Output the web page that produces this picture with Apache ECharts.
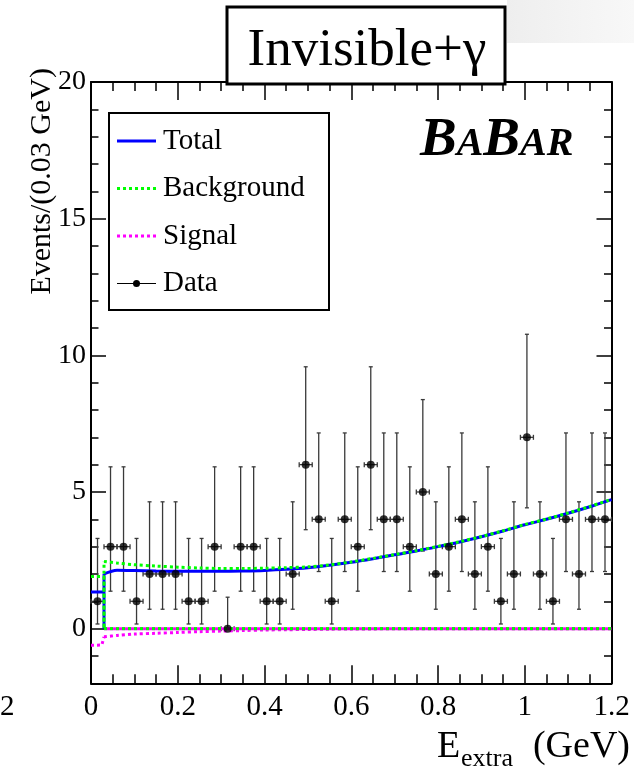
<!DOCTYPE html>
<html>
<head>
<meta charset="utf-8">
<script src="https://cdn.jsdelivr.net/npm/echarts@6/dist/echarts.min.js"></script>
<style>
  html, body { margin: 0; padding: 0; background: #fff; }
  #chart { width: 634px; height: 775px; }
</style>
</head>
<body>
<div id="chart"></div>
<script>
const FONT = "'Liberation Serif', serif";

// 0.03 GeV bins: centres and observed counts
const BIN_X = [0.015, 0.045, 0.075, 0.105, 0.135, 0.165, 0.195, 0.225, 0.255, 0.285,
               0.315, 0.345, 0.375, 0.405, 0.435, 0.465, 0.495, 0.525, 0.555, 0.585,
               0.615, 0.645, 0.675, 0.705, 0.735, 0.765, 0.795, 0.825, 0.855, 0.885,
               0.915, 0.945, 0.975, 1.005, 1.035, 1.065, 1.095, 1.125, 1.155, 1.185];
const COUNTS = [1, 3, 3, 1, 2, 2, 2, 1, 1, 3,
                0, 3, 3, 1, 1, 2, 6, 4, 1, 4,
                3, 6, 4, 4, 3, 5, 2, 3, 4, 2,
                3, 1, 2, 7, 2, 1, 4, 2, 4, 4];
const HALF_BIN = 0.015;

// poisson error bar ends, indexed by count
const ERR_LOW  = [0, 0.17, 0.71, 1.37, 2.09, 2.84, 3.62, 4.42];
const ERR_HIGH = [1.15, 3.30, 4.64, 5.92, 7.16, 8.38, 9.58, 10.77];

// fit curves above the first bin
const CURVE_X = [0.03, 0.06, 0.1, 0.15, 0.2, 0.25, 0.3, 0.35, 0.4, 0.45, 0.5, 0.55, 0.6,
                 0.65, 0.7, 0.75, 0.8, 0.85, 0.9, 0.95, 1.0, 1.05, 1.1, 1.15, 1.2];
const TOTAL_Y = [2.00, 2.14, 2.13, 2.11, 2.10, 2.10, 2.10, 2.11, 2.13, 2.17, 2.23, 2.32, 2.43,
                 2.56, 2.70, 2.84, 3.00, 3.17, 3.36, 3.57, 3.80, 4.00, 4.22, 4.46, 4.72];
const BKG_Y   = [2.46, 2.40, 2.34, 2.29, 2.25, 2.22, 2.20, 2.20, 2.21, 2.23, 2.26, 2.33, 2.44,
                 2.57, 2.71, 2.85, 3.01, 3.18, 3.37, 3.58, 3.81, 4.01, 4.23, 4.47, 4.73];
const SIG_Y   = [-0.30, -0.25, -0.20, -0.17, -0.14, -0.11, -0.09, -0.07, -0.05, -0.04, -0.03, -0.02, -0.01,
                 -0.01, 0, 0, 0, 0, 0, 0, 0, 0, 0, 0, 0];

// first bin (0 - 0.03) levels
const FIRST_EDGE = 0.03;
const TOTAL_BIN1 = 1.34;
const BKG_BIN1 = 1.91;
const SIG_BIN1 = -0.61;

const X_MIN = 0, X_MAX = 1.2, X_STEP = 0.2;
const Y_MIN = -2, Y_MAX = 20;
const Y_TICKS = [0, 5, 10, 15, 20];

const BLUE = '#0000ff', GREEN = '#00ff00', MAGENTA = '#ff00ff';

const zip = (xs, ys) => xs.map((x, i) => [x, ys[i]]);

const pts = BIN_X.map((x, i) => [x, COUNTS[i], ERR_LOW[COUNTS[i]], ERR_HIGH[COUNTS[i]]]);

function errBars(params, api) {
  const x = api.value(0), y = api.value(1);
  const lo = api.coord([x, api.value(2)]);
  const hi = api.coord([x, api.value(3)]);
  const l = api.coord([x - HALF_BIN, y]);
  const r = api.coord([x + HALF_BIN, y]);
  const st = { stroke: '#3a3a3a', lineWidth: 1.3 };
  const ln = (x1, y1, x2, y2) => ({ type: 'line', shape: { x1, y1, x2, y2 }, style: st });
  return {
    type: 'group',
    children: [
      ln(lo[0], lo[1], hi[0], hi[1]),
      ln(hi[0] - 2, hi[1], hi[0] + 2, hi[1]),
      ln(lo[0] - 2, lo[1], lo[0] + 2, lo[1]),
      ln(l[0], l[1], r[0], r[1]),
      ln(l[0], l[1] - 2.5, l[0], l[1] + 2.5),
      ln(r[0], r[1] - 2.5, r[0], r[1] + 2.5),
    ],
  };
}

const AX_LINE = { show: true, onZero: false, lineStyle: { color: '#000', width: 2 } };
const TICK_STYLE = { color: '#000', width: 1.5 };

function xAxis(pos, labels) {
  return {
    type: 'value', position: pos, min: X_MIN, max: X_MAX, interval: X_STEP,
    axisLine: AX_LINE,
    axisTick: { show: true, inside: true, length: 18, lineStyle: TICK_STYLE },
    minorTick: { show: true, splitNumber: 4, length: 9, lineStyle: TICK_STYLE },
    splitLine: { show: false },
    minorSplitLine: { show: false },
    axisLabel: {
      show: labels, color: '#000', fontFamily: FONT, fontSize: 29, margin: 10,
      showMinLabel: true, showMaxLabel: true,
      formatter: v => String(+v.toFixed(1)),
    },
  };
}

function yMajor(pos, labels) {
  return {
    type: 'value', position: pos, min: Y_MIN, max: Y_MAX,
    axisLine: AX_LINE,
    axisTick: { show: true, inside: true, length: 15, lineStyle: TICK_STYLE, customValues: Y_TICKS },
    splitLine: { show: false },
    axisLabel: {
      show: labels, customValues: Y_TICKS, color: '#000', fontFamily: FONT, fontSize: 28, margin: 5,
    },
  };
}

function yMinor(pos) {
  return {
    type: 'value', position: pos, min: Y_MIN, max: Y_MAX, interval: 1,
    axisLine: { show: false, onZero: false },
    axisTick: { show: true, inside: true, length: 7.5, lineStyle: TICK_STYLE },
    splitLine: { show: false },
    axisLabel: { show: false },
  };
}

const curve = (name, data, color, dashed, z, smooth) => ({
  name, type: 'line', data, smooth: smooth ? 0.3 : false, showSymbol: false, symbol: 'none',
  xAxisIndex: 0, yAxisIndex: 0, z, silent: true,
  lineStyle: { color, width: 3, type: dashed ? [3, 3] : 'solid' },
});

const textEl = (x, y, text, size, extra) => ({
  type: 'text', x, y, z: 100,
  style: Object.assign({ text, fill: '#000', fontFamily: FONT, fontSize: size, verticalAlign: 'middle' }, extra || {}),
});

const legendRows = [
  { label: 'Total', color: BLUE, dash: null },
  { label: 'Background', color: GREEN, dash: [3, 3] },
  { label: 'Signal', color: MAGENTA, dash: [3, 3] },
  { label: 'Data', color: '#000', dash: null },
];
const LEG = { x: 109, y: 113, w: 220, h: 197 };
const legendEls = [{
  type: 'rect', z: 90, shape: { x: LEG.x, y: LEG.y, width: LEG.w, height: LEG.h },
  style: { fill: '#fff', stroke: '#000', lineWidth: 2 },
}];
legendRows.forEach((r, i) => {
  const cy = 141 + i * 47.5;
  const isData = r.label === 'Data';
  legendEls.push({
    type: 'line', z: 95, shape: { x1: 117, y1: cy, x2: 156, y2: cy },
    style: { stroke: r.color, lineWidth: isData ? 1.2 : 3, lineDash: r.dash },
  });
  if (isData) {
    legendEls.push({ type: 'circle', z: 96, shape: { cx: 136.5, cy, r: 3.5 }, style: { fill: '#000' } });
  }
  legendEls.push(textEl(163, cy, r.label, 29));
});

const chart = echarts.init(document.getElementById('chart'), null, { renderer: 'canvas' });
chart.setOption({
  animation: false,
  grid: { left: 91, right: 22.5, top: 82, bottom: 91.7, containLabel: false },
  xAxis: [xAxis('bottom', true), xAxis('top', false)],
  yAxis: [yMajor('left', true), yMinor('left'), yMajor('right', false), yMinor('right')],
  series: [
    {
      type: 'custom', renderItem: errBars, data: pts, z: 3, silent: true,
      xAxisIndex: 0, yAxisIndex: 0, encode: { x: 0, y: 1 },
    },
    {
      type: 'scatter', data: pts.map(p => [p[0], p[1]]), symbolSize: 8, z: 10, silent: true,
      itemStyle: { color: '#000' }, xAxisIndex: 0, yAxisIndex: 0,
    },
    curve('Total bin1', [[X_MIN, TOTAL_BIN1], [FIRST_EDGE, TOTAL_BIN1], [FIRST_EDGE, 0], [FIRST_EDGE, TOTAL_Y[0]]], BLUE, false, 4, false),
    curve('Total', zip(CURVE_X, TOTAL_Y), BLUE, false, 4, true),
    curve('Signal bin1', [[X_MIN, SIG_BIN1], [FIRST_EDGE - 0.005, SIG_BIN1 + 0.01], [FIRST_EDGE, SIG_Y[0]]], MAGENTA, true, 5, false),
    curve('Signal', zip(CURVE_X, SIG_Y), MAGENTA, true, 5, true),
    curve('Signal zero', [[FIRST_EDGE, 0], [X_MAX, 0]], MAGENTA, false, 5, false),
    curve('Background bin1', [[X_MIN, BKG_BIN1], [FIRST_EDGE, BKG_BIN1], [FIRST_EDGE, 0], [FIRST_EDGE, BKG_Y[0]]], GREEN, true, 6, false),
    curve('Background', zip(CURVE_X, BKG_Y), GREEN, true, 6, true),
    curve('Background zero', [[FIRST_EDGE, 0], [X_MAX, 0]], GREEN, true, 6, false),
  ],
  graphic: [
    {
      type: 'rect', z: 80, shape: { x: 507, y: 0, width: 127, height: 43 },
      style: {
        fill: new echarts.graphic.LinearGradient(0, 0, 1, 0, [
          { offset: 0, color: '#eeeeee' }, { offset: 1, color: '#f8f8f8' },
        ]),
      },
    },
    {
      type: 'rect', z: 90, shape: { x: 227, y: 7, width: 278, height: 77 },
      style: { fill: '#fff', stroke: '#000', lineWidth: 3 },
    },
    textEl(367, 51, 'Invisible+γ', 53, { textAlign: 'center' }),
    {
      type: 'text', x: 420, y: 141, z: 100,
      style: {
        text: '{a|B}{b|A}{a|B}{b|AR}', fill: '#000', verticalAlign: 'middle',
        rich: {
          a: { fontFamily: FONT, fontSize: 55, fontWeight: 'bold', fontStyle: 'italic', lineHeight: 55, verticalAlign: 'bottom' },
          b: { fontFamily: FONT, fontSize: 40, fontWeight: 'bold', fontStyle: 'italic', lineHeight: 40, verticalAlign: 'bottom', padding: [0, 0, 4, 0] },
        },
      },
    },
    ...legendEls,
    {
      type: 'text', x: 42, y: 68, z: 100, rotation: Math.PI / 2,
      style: { text: 'Events/(0.03 GeV)', fill: '#000', fontFamily: FONT, fontSize: 30, textAlign: 'right', verticalAlign: 'middle' },
    },
    textEl(437, 747, 'E', 38),
    textEl(461, 759, 'extra', 26),
    textEl(630, 747, '(GeV)', 38, { textAlign: 'right' }),
    textEl(0, 707, '2', 29),
  ],
});
</script>
</body>
</html>
